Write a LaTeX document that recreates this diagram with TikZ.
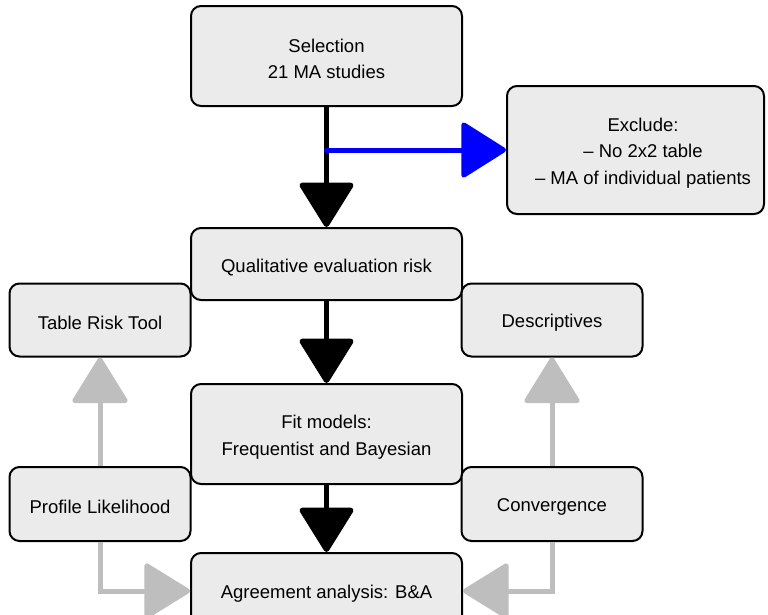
\documentclass[tikz,border=0pt]{standalone}
\usepackage{fontspec}
\setmainfont{Liberation Sans}
\usetikzlibrary{arrows.meta}
\definecolor{boxfill}{HTML}{EBEBEB}
\definecolor{arrowgray}{HTML}{BEBEBE}
\newcommand{\toplift}{\rule{0pt}{19.5pt}}
\begin{document}
\begin{tikzpicture}[x=1pt,y=-1pt,
  box/.style={draw=black, line width=2pt, fill=boxfill, rounded corners=10pt,
    align=center, inner sep=0pt, font=\fontsize{18.5}{26.5}\selectfont},
  wide/.style={box, minimum width=271pt},
  side/.style={box, minimum width=181pt, minimum height=73pt},
  blackarrow/.style={line width=5.5pt, draw=black, -{Triangle[width=57pt,length=47pt,round]}},
  bluearrow/.style={line width=5pt, draw=blue, line cap=round, -{Triangle[width=58pt,length=47pt,round]}},
  grayarrow/.style={line width=5pt, draw=arrowgray, -{Triangle[width=58pt,length=48pt,round]}}
]
\clip (0,0) rectangle (768,614);
\fill[white] (0,0) rectangle (768,614);

\node[wide, minimum height=100pt] (sel) at (326.5,56) {\toplift Selection\\ 21 MA studies};
\node[box, minimum width=257pt, minimum height=128pt] (excl) at (635.5,150) {\toplift\hspace*{15pt}Exclude:\\ \hspace*{15pt}-- No 2x2 table\\ \hspace*{15pt}-- MA of individual patients};
\node[wide, minimum height=72pt] (qual) at (326.5,264) {\toplift Qualitative evaluation risk};
\node[side] (trt) at (100,320) {\toplift Table Risk Tool};
\node[side] (desc) at (552,320) {\toplift Descriptives};
\node[wide, minimum height=100pt] (fit) at (326.5,434) {\toplift Fit models:\\ Frequentist and Bayesian};
\node[side, minimum height=74pt] (pl) at (100,504) {\toplift Profile Likelihood};
\node[side, minimum height=74pt] (conv) at (552,504) {\toplift Convergence};
\node[wide, minimum height=76pt] (agr) at (326.5,591) {\toplift Agreement analysis: B\&A};

\coordinate (split) at (326.5,150);

\draw[blackarrow] (sel) -- (qual);
\draw[bluearrow] (split) -- (excl.west);
\draw[blackarrow] (qual) -- (fit);
\draw[blackarrow] (fit) -- (agr);
\draw[grayarrow] (pl) -- (trt);
\draw[grayarrow] (conv) -- (desc);
\draw[grayarrow] (pl.south) |- (agr.west);
\draw[grayarrow] (conv.south) |- (agr.east);
\end{tikzpicture}
\end{document}
